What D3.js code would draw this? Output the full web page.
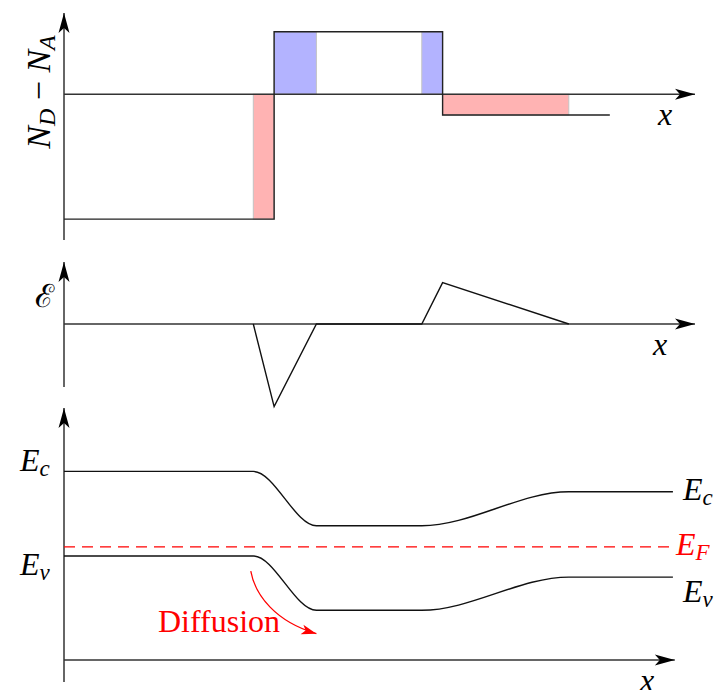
<!DOCTYPE html>
<html>
<head>
<meta charset="utf-8">
<script src="https://cdn.jsdelivr.net/npm/d3@7"></script>
<style>
  body { margin: 0; background: #fff; }
</style>
</head>
<body>
<svg width="722" height="690"></svg>
<script>
// position along the device (arbitrary units)
var regionStart = [0, 33.3, 60],
    regionEnd = [33.3, 60, 86.5],
    regionDoping = [-6, 3, -1];          // N_D - N_A per region

// depletion charge slices
var depStart = [30, 33.3, 56.7, 60],
    depEnd = [33.3, 40, 60, 80],
    depCharge = [-6, 3, 3, -1];

// electric field
var fieldX = [30, 33.3, 40, 56.7, 60, 80],
    fieldV = [0, -4, 0, 0, 2, 0];

// band edges (eV, E_F = 0)
var bandX = [0, 30, 40, 56.7, 80, 96.5],
    ecV = [1.0, 1.0, 0.28, 0.28, 0.73, 0.73],
    evV = [-0.12, -0.12, -0.84, -0.84, -0.4, -0.4],
    efV = 0;

var serif = "'Liberation Serif', 'Times New Roman', serif";

var svg = d3.select("svg");

var x = d3.scaleLinear().domain([0, 100]).range([64, 695]);
var y1 = d3.scaleLinear().domain([-7, 3.9]).range([240, 13]),
    y2 = d3.scaleLinear().domain([-3.05, 3]).range([387, 262]),
    y3 = d3.scaleLinear().domain([-1.79, 1.84]).range([682, 408]);

var defs = svg.append("defs");
function marker(id, color, len, half) {
  defs.append("marker")
    .attr("id", id)
    .attr("markerUnits", "userSpaceOnUse")
    .attr("markerWidth", len + 2).attr("markerHeight", half * 2 + 2)
    .attr("viewBox", (-len - 1) + " " + (-half - 1) + " " + (len + 2) + " " + (half * 2 + 2))
    .attr("refX", 0).attr("refY", 0)
    .attr("orient", "auto")
    .append("path")
    .attr("d", "M0,0 L" + (-len) + "," + (-half) + " L" + (-len * 0.75) + ",0 L" + (-len) + "," + half + "Z")
    .attr("fill", color);
}
marker("arr", "#000", 20, 5.5);
marker("arrRed", "#f00", 15, 5);

function axisLine(x1, yA, x2, yB) {
  svg.append("line")
    .attr("x1", x1).attr("y1", yA).attr("x2", x2).attr("y2", yB)
    .attr("stroke", "#333").attr("stroke-width", 1.5)
    .attr("marker-end", "url(#arr)");
}

function mathText(px, py, size) {
  return svg.append("text")
    .attr("font-family", serif).attr("font-style", "italic")
    .attr("font-size", size || 32)
    .attr("x", px).attr("y", py);
}

// ---------- panel 1 : doping ----------
svg.selectAll(".dep")
  .data(depStart)
  .enter().append("rect")
    .attr("class", "dep")
    .attr("x", function(d) { return x(d); })
    .attr("width", function(d, i) { return x(depEnd[i]) - x(d); })
    .attr("y", function(d, i) { return y1(Math.max(0, depCharge[i])); })
    .attr("height", function(d, i) { return Math.abs(y1(depCharge[i]) - y1(0)); })
    .attr("fill", function(d, i) { return depCharge[i] > 0 ? "#b3b3ff" : "#ffb3b3"; })
    .attr("stroke", "#c4c4c4").attr("stroke-width", 1);

axisLine(x(0), y1(-7), x(0), y1(3.9));
axisLine(x(0), y1(0), x(100), y1(0));

var profile = regionStart.map(function(d, i) { return [d, regionDoping[i]]; });
profile.push([regionEnd[regionEnd.length - 1], regionDoping[regionDoping.length - 1]]);
svg.append("path")
  .attr("d", d3.line().x(function(d) { return x(d[0]); }).y(function(d) { return y1(d[1]); })
    .curve(d3.curveStepAfter)(profile))
  .attr("fill", "none").attr("stroke", "#222").attr("stroke-width", 1.4);

var nd = mathText(0, 0, 34)
  .attr("transform", "translate(50,92) rotate(-90)")
  .attr("text-anchor", "middle");
nd.append("tspan").text("N");
nd.append("tspan").attr("font-size", 24).attr("dy", 5).text("D");
nd.append("tspan").attr("dy", -5).attr("font-style", "normal").text(" \u2212 ");
nd.append("tspan").text("N");
nd.append("tspan").attr("font-size", 24).attr("dy", 5).text("A");

mathText(658, 125).text("x");

// ---------- panel 2 : field ----------
axisLine(x(0), y2(-3.05), x(0), y2(3));
axisLine(x(0), y2(0), x(100), y2(0));

svg.append("path")
  .attr("d", d3.line().x(function(d, i) { return x(d); }).y(function(d, i) { return y2(fieldV[i]); })(fieldX))
  .attr("fill", "none").attr("stroke", "#111").attr("stroke-width", 1.4);

svg.append("text").attr("font-size", 32).attr("font-family", "'DejaVu Serif', serif")
  .attr("text-anchor", "middle")
  .attr("x", 44).attr("y", 307).text("\u2130");

mathText(653, 355).text("x");

// ---------- panel 3 : bands ----------
axisLine(x(0), y3(-1.79), x(0), y3(1.84));
axisLine(x(0), y3(-1.5), x(96.8), y3(-1.5));

var band = d3.line()
  .x(function(d, i) { return x(bandX[i]); })
  .curve(d3.curveMonotoneX);

svg.append("path")
  .attr("d", band.y(function(d) { return y3(d); })(ecV))
  .attr("fill", "none").attr("stroke", "#111").attr("stroke-width", 1.4);
svg.append("path")
  .attr("d", band.y(function(d) { return y3(d); })(evV))
  .attr("fill", "none").attr("stroke", "#111").attr("stroke-width", 1.4);

svg.append("line")
  .attr("x1", x(0)).attr("x2", x(96.5))
  .attr("y1", y3(efV)).attr("y2", y3(efV))
  .attr("stroke", "#f00").attr("stroke-width", 1.3)
  .attr("stroke-dasharray", "11,7");

function elabel(px, py, sub, color) {
  var t = mathText(px, py).attr("fill", color || "#000");
  t.append("tspan").text("E");
  t.append("tspan").attr("font-size", 23).attr("dy", 5).text(sub);
}
elabel(20, 471, "c");
elabel(20, 575, "v");
elabel(683, 500, "c");
elabel(676, 555, "F", "#f00");
elabel(683, 602, "v");

// diffusion arrow
var ds = [29.6, -0.32], dc1 = [30.3, -0.64], dc2 = [33.5, -0.99], de = [40, -1.15];
var dp = d3.path();
dp.moveTo(x(ds[0]), y3(ds[1]));
dp.bezierCurveTo(x(dc1[0]), y3(dc1[1]), x(dc2[0]), y3(dc2[1]), x(de[0]), y3(de[1]));
svg.append("path")
  .attr("d", dp.toString())
  .attr("fill", "none").attr("stroke", "#f00").attr("stroke-width", 1.3)
  .attr("marker-end", "url(#arrRed)");

svg.append("text").attr("font-family", serif).attr("font-size", 32).attr("fill", "#f00")
  .attr("textLength", 122).attr("lengthAdjust", "spacingAndGlyphs")
  .attr("x", 158).attr("y", 632).text("Diffusion");

mathText(640, 691).text("x");
</script>
</body>
</html>
